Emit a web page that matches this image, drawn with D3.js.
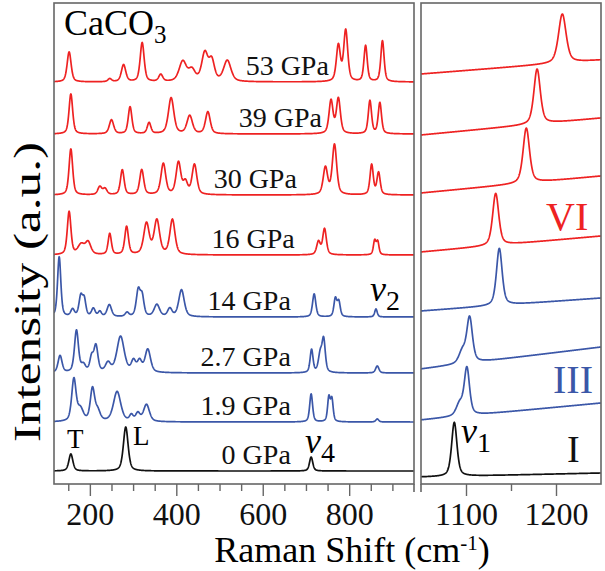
<!DOCTYPE html>
<html>
<head>
<meta charset="utf-8">
<style>
    body { margin: 0; background: #fff; }
    svg { display: block; font-family: 'Liberation Serif', 'Times New Roman', serif; }
    .frame { fill: none; stroke: #666; stroke-width: 1.6; }
    .axis .domain { display: none; }
    .axis .tick line { stroke: #666; stroke-width: 1.4; }
    .axis .tick text { font-size: 32px; fill: #111; font-family: 'Liberation Serif', serif; }
    .spec { fill: none; stroke-width: 1.7; stroke-linejoin: round; }
    .plabel { font-size: 28px; fill: #111; }
</style>
</head>
<body>
<svg width="605" height="571"></svg>

<script src="https://cdn.jsdelivr.net/npm/d3@7"></script>
<script>
    // ---- data ----
    let pressures = ["0 GPa", "1.9 GPa", "2.7 GPa", "14 GPa", "16 GPa", "30 GPa", "39 GPa", "53 GPa"];
    let phases = ["I", "III", "III", "III", "VI", "VI", "VI", "VI"];

    // baseline of each trace in the low-frequency window (a.u.)
    let offsetsLow = [13, 62, 111, 167, 229, 289, 350, 402];
    // sloping background in the nu1 window: [value at 1050, value at 1250]
    let backgroundHigh = [[7, 11], [64, 81], [115, 137], [173, 186], [232, 248], [291, 308], [349, 366], [410, 424]];

    // peaks: [position (cm-1), height (a.u.), fwhm (cm-1)]
    let peaks0 = [[156, 17, 11], [283, 44, 13], [712, 14, 9]];
    let peaks1_9 = [[163, 42, 12], [178, 12, 16], [206, 32, 12], [218, 10, 14], [263, 30, 20], [296, 6, 10],
        [311, 8, 12], [331, 17, 16], [712, 28, 8], [753, 24, 7], [760, 22, 7], [865, 3, 8]];
    let peaks2_7 = [[131, 17, 11], [169, 42, 11], [185, 7, 12], [204, 14, 10], [214, 26, 11], [242, 9, 14],
        [271, 36, 20], [301, 11, 12], [315, 11, 12], [334, 23, 15], [713, 23, 8], [733, 18, 10],
        [741, 32, 9], [865, 7, 9]];
    let peaks14 = [[129, 60, 9], [160, 7, 10], [179, 20, 10], [187, 16, 9], [208, 8, 10], [223, 5, 9],
        [245, 12, 12], [286, 4, 10], [312, 26, 11], [321, 19, 10], [355, 12, 15], [385, 8, 12],
        [412, 27, 15], [719, 23, 9], [768, 18, 8], [776, 15, 8], [862, 8, 7]];
    let peaks16 = [[152, 43, 10], [180, 10, 18], [196, 12, 15], [246, 21, 9], [285, 28, 10], [331, 31, 15],
        [355, 34, 15], [391, 35, 14], [729, 13, 10], [743, 26, 10], [859, 14, 7], [866, 13, 7]];
    let peaks30 = [[156, 46, 10], [223, 8, 11], [235, 6, 11], [275, 25, 10], [320, 25, 11], [370, 31, 13],
        [405, 32, 13], [421, 12, 12], [442, 30, 13], [745, 27, 12], [766, 50, 12], [852, 30, 9], [868, 22, 9]];
    let peaks39 = [[156, 40, 10], [250, 14, 12], [293, 27, 10], [337, 11, 10], [388, 36, 15], [431, 18, 15],
        [473, 22, 13], [758, 33, 11], [775, 35, 11], [848, 33, 9], [871, 31, 9]];
    let peaks53 = [[152, 30, 11], [246, 3, 10], [278, 17, 12], [321, 39, 11], [364, 7, 11], [415, 20, 20],
        [436, 11, 18], [466, 28, 17], [482, 20, 15], [518, 21, 20], [775, 36, 11], [792, 51, 11],
        [838, 36, 9], [877, 41, 9]];
    let peaksLow = [peaks0, peaks1_9, peaks2_7, peaks14, peaks16, peaks30, peaks39, peaks53];

    // nu1 band
    let nu1Peaks = [
        [[1087, 54, 7]],
        [[1093, 12, 9], [1101, 47, 7]],
        [[1096, 12, 9], [1104, 45, 7.5]],
        [[1137, 57, 7.5]],
        [[1133, 52, 8]],
        [[1167, 55, 8.5]],
        [[1179, 55, 8.5]],
        [[1207, 49, 10]]
    ];

    let ticksLow = [200, 400, 600, 800];
    let ticksHigh = [1100, 1200];

    // ---- layout ----
    let svg = d3.select("svg");
    let phaseColor = d3.scaleOrdinal()
        .domain(["I", "III", "VI"])
        .range(["#111111", "#3b57a8", "#ee2222"]);

    let xLow = d3.scaleLinear().domain([117, 950]).range([54, 414]);
    let xHigh = d3.scaleLinear().domain([1050, 1250]).range([421, 601]);
    let y = d3.scaleLinear().domain([0, 481]).range([484, 3]);

    // pseudo-Voigt line shape for a list of peaks
    function shape(peaks, v) {
        let s = 0;
        peaks.forEach(p => {
            let t = (v - p[0]) / (p[2] / 2);
            s += p[1] * (0.5 / (1 + t * t) + 0.5 * Math.exp(-Math.LN2 * t * t));
        });
        return s;
    }

    let defs = svg.append("defs");
    defs.append("clipPath").attr("id", "clipLow").append("rect")
        .attr("x", 54).attr("y", 3).attr("width", 360).attr("height", 481);
    defs.append("clipPath").attr("id", "clipHigh").append("rect")
        .attr("x", 421).attr("y", 3).attr("width", 180).attr("height", 481);

    let gridLow = d3.range(117, 950.01, 0.5);
    let gridHigh = d3.range(1050, 1250.01, 0.25);

    let lineLow = d3.line().x(d => xLow(d[0])).y(d => y(d[1]));
    let lineHigh = d3.line().x(d => xHigh(d[0])).y(d => y(d[1]));

    let gLow = svg.append("g").attr("clip-path", "url(#clipLow)");
    let gHigh = svg.append("g").attr("clip-path", "url(#clipHigh)");

    pressures.forEach((p, i) => {
        let pts = gridLow.map(v => [v, offsetsLow[i] + shape(peaksLow[i], v)]);
        gLow.append("path")
            .attr("class", "spec")
            .attr("stroke", phaseColor(phases[i]))
            .attr("d", lineLow(pts));

        let b = backgroundHigh[i];
        let ptsH = gridHigh.map(v => [v, b[0] + (b[1] - b[0]) * (v - 1050) / 200 + shape(nu1Peaks[i], v)]);
        gHigh.append("path")
            .attr("class", "spec")
            .attr("stroke", phaseColor(phases[i]))
            .attr("d", lineHigh(ptsH));
    });

    // frames
    svg.append("rect").attr("class", "frame").attr("x", 54).attr("y", 3).attr("width", 360).attr("height", 481);
    svg.append("rect").attr("class", "frame").attr("x", 421).attr("y", 3).attr("width", 180).attr("height", 481);
    // axis break marks
    svg.append("line").attr("class", "frame").attr("x1", 414).attr("x2", 414).attr("y1", 484).attr("y2", 492);
    svg.append("line").attr("class", "frame").attr("x1", 421).attr("x2", 421).attr("y1", 484).attr("y2", 492);

    // axes
    function addAxis(scale, major, minor) {
        svg.append("g").attr("class", "axis")
            .attr("transform", "translate(0,484)")
            .call(d3.axisBottom(scale).tickValues(minor).tickSize(7).tickFormat(""));
        svg.append("g").attr("class", "axis")
            .attr("transform", "translate(0,484)")
            .call(d3.axisBottom(scale).tickValues(major).tickSize(12).tickFormat(d3.format("d")))
            .call(g => g.selectAll("text").attr("y", 41).attr("dy", null));
    }
    addAxis(xLow, ticksLow, d3.range(150, 950, 50).filter(v => v % 200 !== 0));
    addAxis(xHigh, ticksHigh, [1150]);

    // pressure labels
    let labelEnd = [665, 665, 665, 665, 674, 679, 737, 753];
    pressures.forEach((p, i) => {
        svg.append("text")
            .attr("class", "plabel")
            .attr("text-anchor", "end")
            .attr("x", xLow(labelEnd[i]))
            .attr("y", y(offsetsLow[i]) - 7)
            .text(p);
    });

    // title
    let title = svg.append("text").attr("x", 64).attr("y", 35).style("font-size", "36px").text("CaCO");
    title.append("tspan").attr("dy", 8).style("font-size", "25px").text("3");

    // axis titles
    let xt = svg.append("text").attr("x", 352).attr("y", 562).attr("text-anchor", "middle")
        .style("font-size", "36px").text("Raman Shift (cm");
    xt.append("tspan").attr("dy", -12).style("font-size", "21px").text("-1");
    xt.append("tspan").attr("dy", 12).text(")");

    svg.append("text")
        .attr("transform", "translate(40,292) rotate(-90)")
        .attr("text-anchor", "middle")
        .attr("textLength", 300)
        .attr("lengthAdjust", "spacingAndGlyphs")
        .style("font-size", "38px")
        .text("Intensity (a.u.)");

    // band / phase annotations
    svg.append("text").attr("x", 67).attr("y", 448).style("font-size", "27px").text("T");
    svg.append("text").attr("x", 133).attr("y", 445).style("font-size", "27px").text("L");

    function nu(x, yb, sub) {
        let t = svg.append("text").attr("x", x).attr("y", yb);
        t.append("tspan").style("font-size", "36px").style("font-style", "italic").text("\u03bd");
        t.append("tspan").attr("dy", 9).style("font-size", "28px").text(sub);
    }
    nu(305, 453, "4");
    nu(370, 301, "2");
    nu(461, 443, "1");

    svg.append("text").attr("x", 546).attr("y", 230).style("font-size", "40px")
        .attr("fill", phaseColor("VI")).text("VI");
    svg.append("text").attr("x", 553).attr("y", 393).style("font-size", "40px")
        .attr("fill", phaseColor("III")).text("III");
    svg.append("text").attr("x", 567).attr("y", 462).style("font-size", "38px")
        .attr("fill", "#111").text("I");
</script>
</body>
</html>
